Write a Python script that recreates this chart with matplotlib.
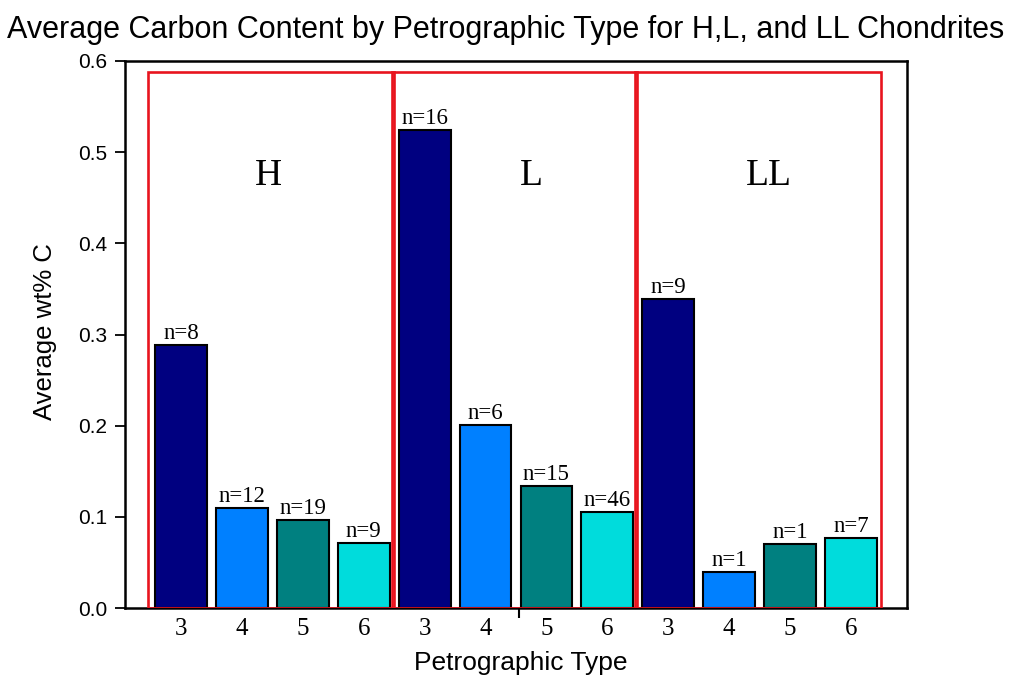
import matplotlib
matplotlib.use("Agg")
import matplotlib.pyplot as plt
from matplotlib.patches import Rectangle

# Chondrite groups and petrographic types
groups = ["H", "L", "LL"]
types = ["3", "4", "5", "6"]

# Average carbon content (wt% C) per group, types 3-6
h_carbon = [0.289, 0.110, 0.097, 0.071]
l_carbon = [0.524, 0.201, 0.134, 0.105]
ll_carbon = [0.339, 0.040, 0.070, 0.077]

# Sample counts per bar
h_counts = [8, 12, 19, 9]
l_counts = [16, 6, 15, 46]
ll_counts = [9, 1, 1, 7]

type_colors = ["#000080", "#0080FF", "#008080", "#00DCDC"]

SANS = "Liberation Sans"
SERIF = "Liberation Serif"

W, H = 1012, 679
fig = plt.figure(figsize=(W / 100, H / 100), dpi=100)
ax = fig.add_axes([125 / W, 1 - 608 / H, 782 / W, 547 / H])

values = h_carbon + l_carbon + ll_carbon
counts = h_counts + l_counts + ll_counts
colors = type_colors * len(groups)
xpos = list(range(len(values)))

bars = ax.bar(xpos, values, width=0.85, color=colors, edgecolor="black",
              linewidth=1.5, zorder=3)
for b, v, n in zip(bars, values, counts):
    ax.text(b.get_x() + b.get_width() / 2, v + 0.001, f"n={n}",
            ha="center", va="bottom", fontsize=16.5, family=SERIF, zorder=4)

# Red frames around each chondrite group
box_top = 0.588
label_x = [1.43, 5.76, 9.65]
for gi, g in enumerate(groups):
    left = gi * 4 - 0.54
    ax.add_patch(Rectangle((left, 0), 4.03, box_top, fill=False,
                           edgecolor="#E8141E", linewidth=1.9, zorder=5))
    ax.text(label_x[gi], 0.474, g, ha="center", va="center",
            fontsize=27, family=SERIF, zorder=4)

ax.set_xlim(-0.92, 11.92)
ax.set_ylim(0, 0.6)
ax.set_yticks([0.0, 0.1, 0.2, 0.3, 0.4, 0.5, 0.6])
ax.set_yticklabels(["0.0", "0.1", "0.2", "0.3", "0.4", "0.5", "0.6"],
                   family=SANS, fontsize=15)
ax.set_xticks(xpos)
ax.set_xticklabels(types * len(groups), family=SERIF, fontsize=18)
ax.tick_params(axis="x", length=0, pad=7)
ax.set_xticks([5.55], minor=True)
ax.tick_params(axis="x", which="minor", length=7, width=1.5, direction="out")
ax.tick_params(axis="y", length=7, width=1.3, direction="out", pad=6)

for s in ax.spines.values():
    s.set_linewidth(1.8)

ax.set_ylabel("Average wt% C", family=SANS, fontsize=18.5, va="center")
ax.yaxis.set_label_coords(-0.102, 0.506)
ax.set_xlabel("Petrographic Type", family=SANS, fontsize=19, va="center")
ax.xaxis.set_label_coords(0.506, -0.1005)
fig.text(0.5, 1 - 30 / H,
         "Average Carbon Content by Petrographic Type for H,L, and LL Chondrites",
         ha="center", va="center", family=SANS, fontsize=22)

fig.savefig("out.png", dpi=100)
